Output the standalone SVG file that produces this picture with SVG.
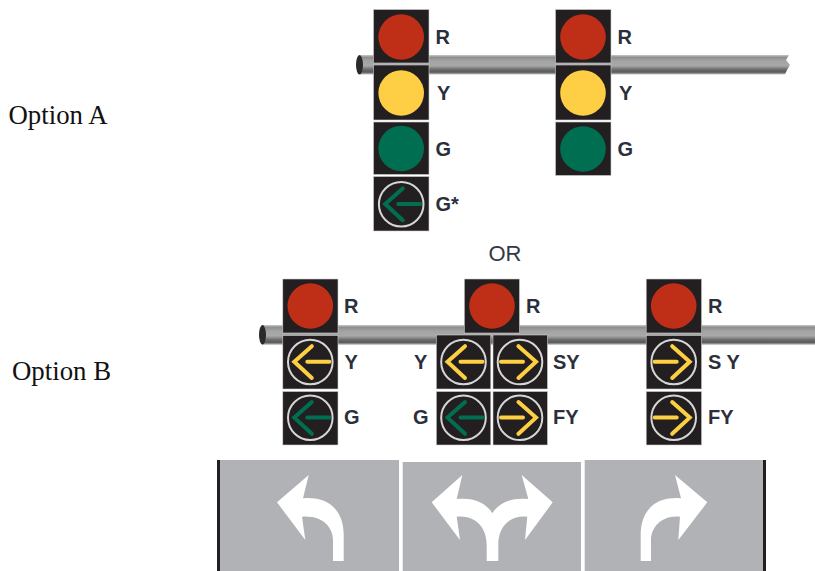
<svg xmlns="http://www.w3.org/2000/svg" xmlns:xlink="http://www.w3.org/1999/xlink" width="815" height="571" viewBox="0 0 815 571">
<style>
.opt{font-family:"Liberation Serif",serif;font-size:26.800px;fill:#111}
.lb{font-family:"Liberation Sans",Arial,sans-serif;font-size:20px;font-weight:bold;fill:#2b2f3c}
.or{font-family:"Liberation Sans",Arial,sans-serif;font-size:22px;fill:#333845}
.box{fill:#231f20;stroke:#cfcfcf;stroke-width:.6}
.ring{fill:none;stroke:#d6d6d6;stroke-width:2}
.ya{fill:none;stroke:#fdd043;stroke-width:4;stroke-linecap:round;stroke-linejoin:miter}
.ga{fill:none;stroke:#006f51;stroke-width:4;stroke-linecap:round;stroke-linejoin:miter}
.cap{fill:#2a2a2a}
.panel{fill:#b1b2b5}
.edge{fill:#231f20}
.turn{fill:#fff}
</style>
<defs>
<linearGradient id="bar" x1="0" y1="0" x2="0" y2="1">
<stop offset="0" stop-color="#c8c8c8"/>
<stop offset=".12" stop-color="#8e8e8e"/>
<stop offset=".3" stop-color="#a3a3a3"/>
<stop offset=".55" stop-color="#a9a9a9"/>
<stop offset=".75" stop-color="#6a6a6a"/>
<stop offset=".88" stop-color="#5a5a5a"/>
<stop offset="1" stop-color="#c4c4c4"/>
</linearGradient>
<g id="left"><circle class="ring" r="22.300"/><path d="M19-.2H-3M1.500-15.800L-16-.2L1.500 16"/></g>
<g id="right"><circle class="ring" r="22.300"/><path d="M-19-.2H3M-1.500-15.800L16-.2L-1.500 16"/></g>
</defs>
<rect width="815" height="571" fill="#fff"/>

<g id="pole-a">
<path d="M360 55H789L786 60L790 65L787 70L785 74.500H360Z" fill="url(#bar)"/>
<ellipse class="cap" cx="359.500" cy="64.800" rx="3.500" ry="9.700"/>
</g>
<g id="pole-b">
<rect x="262" y="325" width="553" height="19.800" fill="url(#bar)"/>
<ellipse class="cap" cx="262.500" cy="334.800" rx="3.500" ry="9.700"/>
</g>

<g id="option-a-label"><text class="opt" x="8.500" y="124">Option A</text></g>
<g id="option-b-label"><text class="opt" x="12" y="380">Option B</text></g>
<g id="or-label"><text class="or" x="488.500" y="261">OR</text></g>

<g id="signal-a1">
<rect class="box" x="373.500" y="9.500" width="55.500" height="53.500"/>
<rect class="box" x="373.500" y="65" width="55.500" height="55"/>
<rect class="box" x="373.500" y="122" width="55.500" height="52.500"/>
<rect class="box" x="373.500" y="176.500" width="55.500" height="54.500"/>
<circle cx="401.200" cy="37" r="22.800" fill="#bf2f18"/>
<circle cx="401.200" cy="93" r="22.800" fill="#fecf44"/>
<circle cx="401.200" cy="148.500" r="22.800" fill="#006f51"/>
<use href="#left" x="401.200" y="204.200" class="ga"/>
<text class="lb" x="435.500" y="44">R</text>
<text class="lb" x="437" y="100">Y</text>
<text class="lb" x="435.500" y="156">G</text>
<text class="lb" x="435.500" y="211">G*</text>
</g>

<g id="signal-a2">
<rect class="box" x="555.500" y="9.500" width="55.500" height="53.500"/>
<rect class="box" x="555.500" y="65" width="55.500" height="55"/>
<rect class="box" x="555.500" y="122" width="55.500" height="53.500"/>
<circle cx="583" cy="37" r="22.800" fill="#bf2f18"/>
<circle cx="583" cy="93" r="22.800" fill="#fecf44"/>
<circle cx="583" cy="149" r="22.800" fill="#006f51"/>
<text class="lb" x="617.500" y="44">R</text>
<text class="lb" x="619" y="100">Y</text>
<text class="lb" x="617.500" y="156">G</text>
</g>

<g id="signal-b1">
<rect class="box" x="282.800" y="279" width="55.200" height="54"/>
<rect class="box" x="282.800" y="335.500" width="55.200" height="53.500"/>
<rect class="box" x="282.800" y="391.500" width="55.200" height="53.500"/>
<circle cx="310.300" cy="306" r="22.800" fill="#bf2f18"/>
<use href="#left" x="310.300" y="362" class="ya"/>
<use href="#left" x="310.300" y="417.800" class="ga"/>
<text class="lb" x="344" y="313">R</text>
<text class="lb" x="344.500" y="369">Y</text>
<text class="lb" x="344" y="424">G</text>
</g>

<g id="signal-b2">
<rect class="box" x="464.300" y="279" width="55.200" height="54"/>
<rect class="box" x="436.300" y="335" width="54.500" height="54"/>
<rect class="box" x="493" y="335" width="54.500" height="54"/>
<rect class="box" x="436.300" y="391.500" width="54.500" height="53.500"/>
<rect class="box" x="493" y="391.500" width="54.500" height="53.500"/>
<circle cx="492" cy="306" r="22.800" fill="#bf2f18"/>
<use href="#left" x="463.500" y="362" class="ya"/>
<use href="#right" x="520" y="362" class="ya"/>
<use href="#left" x="463.500" y="417.800" class="ga"/>
<use href="#right" x="520" y="417.800" class="ya"/>
<text class="lb" x="526" y="313">R</text>
<text class="lb" x="414" y="369">Y</text>
<text class="lb" x="413" y="424">G</text>
<text class="lb" x="553" y="369">SY</text>
<text class="lb" x="553" y="424">FY</text>
</g>

<g id="signal-b3">
<rect class="box" x="646.200" y="279" width="55.400" height="54"/>
<rect class="box" x="646.200" y="335.500" width="55.400" height="53.500"/>
<rect class="box" x="646.200" y="391.500" width="55.400" height="53.500"/>
<circle cx="673.700" cy="306" r="22.800" fill="#bf2f18"/>
<use href="#right" x="673.700" y="362" class="ya"/>
<use href="#right" x="673.700" y="417.800" class="ya"/>
<text class="lb" x="708" y="313">R</text>
<text class="lb" x="708" y="369" xml:space="preserve">S Y</text>
<text class="lb" x="708" y="424">FY</text>
</g>

<g id="lane-left">
<rect class="panel" x="217" y="460" width="182" height="111"/>
<rect class="edge" x="217" y="460" width="3" height="111"/>
<path class="turn" d="M277 502.300L308.700 475L303 498.300C328 496 343.700 510 343.700 535V561H333V540C333 527 322 515 302 516.700L305.300 540Z"/>
</g>
<g id="lane-both">
<rect class="panel" x="402.700" y="462" width="178.300" height="109"/>
<path class="turn" d="M431.700 502.300L462.300 475L456.700 499C475 497 487 504 492.300 513.300C498 504 510 497 528.300 499L521.700 475L552.700 502.300L525 540L527.300 516.700C510 515 498.300 526 498.300 545V561H486.700V545C486.700 526 474 515 456.700 516.700L460 540Z"/>
</g>
<g id="lane-right">
<rect class="panel" x="584.700" y="460" width="179.300" height="111"/>
<rect class="edge" x="763" y="460" width="3" height="111"/>
<path class="turn" d="M707.300 502.300L675 475L681 498.300C656 496 640.700 510 640.700 535V561H651V540C651 527 662 515 680 516.700L678.300 540Z"/>
</g>
</svg>
